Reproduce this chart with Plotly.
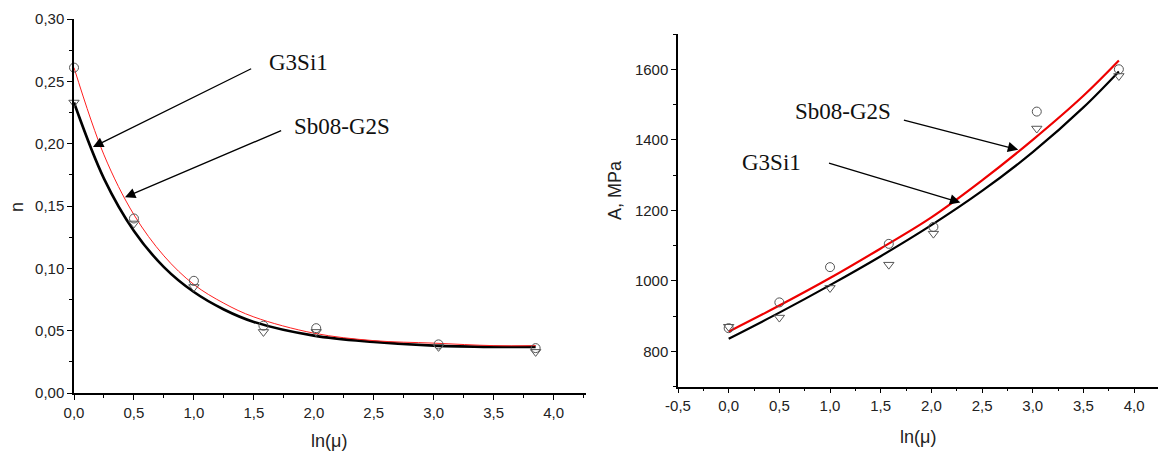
import plotly.graph_objects as go

# ---- data ----
x_pts = [0.0, 0.5, 1.0, 1.58, 2.02, 3.04, 3.85]
n_sb08 = [0.261, 0.140, 0.090, 0.054, 0.052, 0.039, 0.036]
n_g3si1 = [0.233, 0.136, 0.085, 0.049, 0.049, 0.037, 0.033]
A_sb08 = [866, 939, 1039, 1105, 1153, 1480, 1600]
A_g3si1 = [870, 896, 980, 1046, 1134, 1432, 1581]

n_curve_x = [0.0, 0.25, 0.5, 0.75, 1.0, 1.25, 1.5, 2.0, 2.5, 3.0, 3.5, 3.85]
n_fit_sb08 = [0.261, 0.191, 0.143, 0.110, 0.087, 0.072, 0.061, 0.048, 0.042, 0.040, 0.038, 0.038]
n_fit_g3si1 = [0.233, 0.172, 0.130, 0.101, 0.081, 0.067, 0.057, 0.046, 0.041, 0.038, 0.037, 0.037]

A_curve_x = [0.0, 0.5, 1.0, 1.5, 2.0, 2.5, 3.0, 3.5, 3.85]
A_fit_sb08 = [856, 930, 1008, 1092, 1180, 1285, 1400, 1525, 1625]
A_fit_g3si1 = [836, 910, 988, 1070, 1158, 1255, 1365, 1492, 1594]

left_xticks = [0.0, 0.5, 1.0, 1.5, 2.0, 2.5, 3.0, 3.5, 4.0]
left_xlabels = ["0,0", "0,5", "1,0", "1,5", "2,0", "2,5", "3,0", "3,5", "4,0"]
left_yticks = [0.0, 0.05, 0.10, 0.15, 0.20, 0.25, 0.30]
left_ylabels = ["0,00", "0,05", "0,10", "0,15", "0,20", "0,25", "0,30"]
right_xticks = [-0.5, 0.0, 0.5, 1.0, 1.5, 2.0, 2.5, 3.0, 3.5, 4.0]
right_xlabels = ["-0,5", "0,0", "0,5", "1,0", "1,5", "2,0", "2,5", "3,0", "3,5", "4,0"]
right_yticks = [800, 1000, 1200, 1400, 1600]
right_ylabels = ["800", "1000", "1200", "1400", "1600"]

W, H = 1158, 457
TICKFONT = dict(family="Liberation Sans, Arial, sans-serif", size=15, color="#222")
SERIF = dict(family="Liberation Serif, Times New Roman, serif", size=23, color="#111")
MARKER_COL = "#555"

fig = go.Figure()

# left panel
fig.add_trace(go.Scatter(x=n_curve_x, y=n_fit_g3si1, mode="lines", line=dict(color="black", width=2.6, shape="spline"),
                         xaxis="x", yaxis="y", showlegend=False, hoverinfo="skip"))
fig.add_trace(go.Scatter(x=n_curve_x, y=n_fit_sb08, mode="lines", line=dict(color="#ff2020", width=1, shape="spline"),
                         xaxis="x", yaxis="y", showlegend=False, hoverinfo="skip"))
fig.add_trace(go.Scatter(x=x_pts, y=n_sb08, mode="markers",
                         marker=dict(symbol="circle-open", size=9, color=MARKER_COL, line=dict(width=1)),
                         xaxis="x", yaxis="y", showlegend=False, cliponaxis=False))
fig.add_trace(go.Scatter(x=x_pts, y=n_g3si1, mode="markers",
                         marker=dict(symbol="triangle-down-open", size=9, color=MARKER_COL, line=dict(width=1)),
                         xaxis="x", yaxis="y", showlegend=False, cliponaxis=False))

# right panel
fig.add_trace(go.Scatter(x=A_curve_x, y=A_fit_g3si1, mode="lines", line=dict(color="black", width=2.2, shape="spline"),
                         xaxis="x2", yaxis="y2", showlegend=False, hoverinfo="skip"))
fig.add_trace(go.Scatter(x=A_curve_x, y=A_fit_sb08, mode="lines", line=dict(color="#ee0000", width=2.2, shape="spline"),
                         xaxis="x2", yaxis="y2", showlegend=False, hoverinfo="skip"))
fig.add_trace(go.Scatter(x=x_pts, y=A_sb08, mode="markers",
                         marker=dict(symbol="circle-open", size=9, color=MARKER_COL, line=dict(width=1)),
                         xaxis="x2", yaxis="y2", showlegend=False))
fig.add_trace(go.Scatter(x=x_pts, y=A_g3si1, mode="markers",
                         marker=dict(symbol="triangle-down-open", size=9, color=MARKER_COL, line=dict(width=1)),
                         xaxis="x2", yaxis="y2", showlegend=False))

axis_common = dict(showline=True, linecolor="black", linewidth=1.5, ticks="outside", ticklen=5, tickwidth=1.3,
                   tickcolor="black", showgrid=False, zeroline=False, tickfont=TICKFONT, automargin=False)

fig.update_layout(
    template="none",
    width=W, height=H,
    margin=dict(l=0, r=0, t=0, b=0, pad=0),
    paper_bgcolor="white", plot_bgcolor="white",
    xaxis=dict(axis_common, domain=[74 / W, 586 / W], range=[0, 4.27], anchor="y",
               tickvals=left_xticks, ticktext=left_xlabels,
               minor=dict(ticks="outside", ticklen=3, tickcolor="black", dtick=0.25, tick0=0)),
    yaxis=dict(axis_common, domain=[(H - 393) / H, (H - 19) / H], range=[0, 0.30], anchor="x",
               tickvals=left_yticks, ticktext=left_ylabels,
               minor=dict(ticks="outside", ticklen=3, tickcolor="black", dtick=0.025, tick0=0)),
    xaxis2=dict(axis_common, domain=[678 / W, 1.0], range=[-0.5, 4.236], anchor="y2",
                tickvals=right_xticks, ticktext=right_xlabels,
                minor=dict(ticks="outside", ticklen=3, tickcolor="black", dtick=0.25, tick0=0)),
    yaxis2=dict(axis_common, domain=[(H - 386.7) / H, (H - 34) / H], range=[700, 1700], anchor="x2",
                tickvals=right_yticks, ticktext=right_ylabels,
                minor=dict(ticks="outside", ticklen=3, tickcolor="black", dtick=100, tick0=700)),
)

ann = []
TITLEFONT = dict(family="Liberation Sans, Arial, sans-serif", size=18, color="#222")
ann.append(dict(text="n", x=17 / W, y=1 - 207 / H, xref="paper", yref="paper", showarrow=False,
                textangle=-90, font=TITLEFONT, xanchor="center", yanchor="middle"))
ann.append(dict(text="ln(μ)", x=329 / W, y=1 - 441 / H, xref="paper", yref="paper", showarrow=False,
                font=TITLEFONT, xanchor="center", yanchor="middle"))
ann.append(dict(text="A, MPa", x=615 / W, y=1 - 190 / H, xref="paper", yref="paper", showarrow=False,
                textangle=-90, font=TITLEFONT, xanchor="center", yanchor="middle"))
ann.append(dict(text="ln(μ)", x=918 / W, y=1 - 437 / H, xref="paper", yref="paper", showarrow=False,
                font=TITLEFONT, xanchor="center", yanchor="middle"))

# labels
ann.append(dict(text="G3Si1", x=1.61, y=0.2655, xref="x", yref="y", showarrow=False, font=SERIF,
                xanchor="left", yanchor="middle"))
ann.append(dict(text="Sb08-G2S", x=1.82, y=0.2134, xref="x", yref="y", showarrow=False, font=SERIF,
                xanchor="left", yanchor="middle"))
ann.append(dict(text="Sb08-G2S", x=0.63, y=1480, xref="x2", yref="y2", showarrow=False, font=SERIF,
                xanchor="left", yanchor="middle"))
ann.append(dict(text="G3Si1", x=0.108, y=1335, xref="x2", yref="y2", showarrow=False, font=SERIF,
                xanchor="left", yanchor="middle"))

arrow_style = dict(text="", showarrow=True, arrowhead=2, arrowsize=1.6, arrowwidth=1.3, arrowcolor="black",
                   standoff=0, startstandoff=0)
ann.append(dict(arrow_style, x=0.158, y=0.1973, ax=1.49, ay=0.2607, xref="x", yref="y", axref="x", ayref="y"))
ann.append(dict(arrow_style, x=0.425, y=0.157, ax=1.74, ay=0.211, xref="x", yref="y", axref="x", ayref="y"))
ann.append(dict(arrow_style, x=2.857, y=1372, ax=1.714, ay=1457, xref="x2", yref="y2", axref="x2", ayref="y2"))
ann.append(dict(arrow_style, x=2.286, y=1222, ax=0.975, ay=1335, xref="x2", yref="y2", axref="x2", ayref="y2"))

fig.update_layout(annotations=ann)
fig.write_html("out.html", config={"displayModeBar": False},
               post_script="document.body.style.margin='0px';document.body.style.overflow='hidden';")
